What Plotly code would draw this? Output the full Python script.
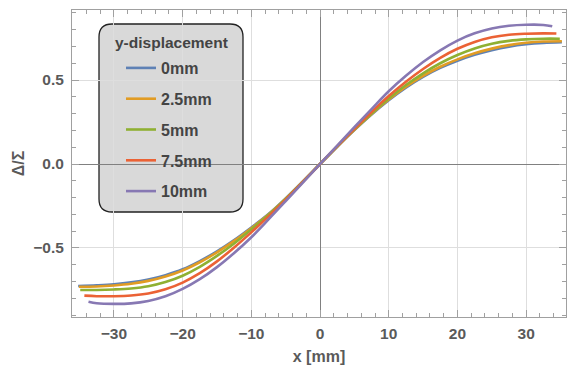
import plotly.graph_objects as go

# ---- data ----
series_names = ["0mm", "2.5mm", "5mm", "7.5mm", "10mm"]
colors = ["#5E81B5", "#E19C24", "#8FB032", "#EB6235", "#8778B3"]
legend_title = "y-displacement"

x_inner = [-32.5, -30, -27.5, -25, -22.5, -20, -17.5, -15, -12.5, -10, -7.5, -5, -2.5,
           0, 2.5, 5, 7.5, 10, 12.5, 15, 17.5, 20, 22.5, 25, 27.5, 30, 32.5]

x_0mm = [-35.2] + x_inner + [35.2]
y_0mm = [-0.726, -0.722, -0.716, -0.705, -0.688, -0.662, -0.627, -0.578, -0.520, -0.453,
         -0.378, -0.298, -0.205, -0.104, 0.0, 0.103, 0.202, 0.295, 0.380, 0.455, 0.519,
         0.572, 0.615, 0.650, 0.678, 0.699, 0.713, 0.721, 0.725]

x_2p5mm = [-35.1] + x_inner + [35.2]
y_2p5mm = [-0.731, -0.729, -0.723, -0.713, -0.696, -0.670, -0.634, -0.585, -0.526, -0.458,
           -0.382, -0.301, -0.207, -0.105, 0.0, 0.104, 0.204, 0.298, 0.384, 0.460, 0.525,
           0.579, 0.623, 0.659, 0.687, 0.708, 0.722, 0.729, 0.731]

x_5mm = [-34.9] + x_inner + [34.9]
y_5mm = [-0.750, -0.750, -0.747, -0.741, -0.728, -0.703, -0.665, -0.612, -0.547, -0.473,
         -0.390, -0.304, -0.208, -0.105, 0.0, 0.104, 0.206, 0.301, 0.390, 0.470, 0.540,
         0.600, 0.649, 0.688, 0.716, 0.733, 0.742, 0.746, 0.746]

x_7p5mm = [-34.3] + x_inner + [34.4]
y_7p5mm = [-0.784, -0.787, -0.787, -0.783, -0.771, -0.746, -0.706, -0.650, -0.580, -0.497,
           -0.407, -0.312, -0.212, -0.107, 0.0, 0.106, 0.210, 0.310, 0.405, 0.490, 0.566,
           0.632, 0.686, 0.727, 0.755, 0.770, 0.776, 0.778, 0.777]

x_10mm = [-33.7] + x_inner + [33.8]
y_10mm = [-0.820, -0.829, -0.833, -0.830, -0.816, -0.788, -0.744, -0.686, -0.614, -0.530,
          -0.436, -0.330, -0.221, -0.111, 0.0, 0.110, 0.219, 0.327, 0.433, 0.525, 0.607,
          0.677, 0.735, 0.778, 0.807, 0.823, 0.829, 0.828, 0.820]

xs = [x_0mm, x_2p5mm, x_5mm, x_7p5mm, x_10mm]
ys = [y_0mm, y_2p5mm, y_5mm, y_7p5mm, y_10mm]

x_ticks = [-30, -20, -10, 0, 10, 20, 30]
y_ticks = [-0.5, 0.0, 0.5]
y_ticklabels = ["\u22120.5", "0.0", "0.5"]

FONT = "Liberation Sans"
TXT = "#5a5a5a"
LEG = "#444444"

fig = go.Figure()
for i, name in enumerate(series_names):
    fig.add_trace(go.Scatter(
        x=xs[i], y=ys[i], mode="lines", name=name, legendgroup=name,
        line=dict(color=colors[i], width=2.6, shape="spline", smoothing=1.0),
    ))

W, H = 568, 370
ml, mr, mt, mb = 72, 2, 10, 53
pw, ph = W - ml - mr, H - mt - mb

def px2x(p):
    return (p - ml) / pw

def px2y(p):
    return (H - mb - p) / ph

# rounded legend box
bx0, bx1, by0, by1 = px2x(99), px2x(243), px2y(24), px2y(212)
rx, ry = 13 / pw, 13 / ph
path = (f"M{bx0+rx},{by0} L{bx1-rx},{by0} Q{bx1},{by0} {bx1},{by0-ry} "
        f"L{bx1},{by1+ry} Q{bx1},{by1} {bx1-rx},{by1} L{bx0+rx},{by1} "
        f"Q{bx0},{by1} {bx0},{by1+ry} L{bx0},{by0-ry} Q{bx0},{by0} {bx0+rx},{by0} Z")
fig.add_shape(type="path", path=path, xref="paper", yref="paper",
              fillcolor="#d9d9d9", line=dict(color="#222222", width=1.3), layer="between")

# legend title (centred in the rounded box)
fig.add_annotation(text=legend_title, xref="paper", yref="paper",
                   x=(bx0 + bx1) / 2, y=px2y(42), xanchor="center", yanchor="middle",
                   showarrow=False, font=dict(family=FONT, size=15.5, color=LEG, weight="bold"))

axis_common = dict(
    showline=True, linecolor="#a0a0a0", linewidth=1, mirror="ticks",
    ticks="inside", ticklen=7, tickcolor="#a0a0a0", tickwidth=1,
    showgrid=True, gridcolor="#dedede", gridwidth=1,
    zeroline=True, zerolinecolor="#808080", zerolinewidth=1,
    tickfont=dict(family=FONT, size=15.5, color=TXT, weight="bold"),
    automargin=False,
)

fig.update_xaxes(
    **axis_common,
    range=[-36.1, 35.8], tickmode="array", tickvals=x_ticks, ticklabelstandoff=2,
    minor=dict(dtick=2, ticks="inside", ticklen=4, tickcolor="#a0a0a0", showgrid=False),
    title=dict(text="x [mm]", font=dict(family=FONT, size=16, color=TXT, weight="bold"), standoff=10),
)
fig.update_yaxes(
    **axis_common,
    range=[-0.911, 0.917], tickmode="array", tickvals=y_ticks, ticktext=y_ticklabels,
    ticklabelstandoff=4,
    minor=dict(dtick=0.1, ticks="inside", ticklen=4, tickcolor="#a0a0a0", showgrid=False),
    title=dict(text="\u0394/\u03a3", font=dict(family=FONT, size=16, color=TXT, weight="bold"), standoff=4),
)

fig.update_layout(
    width=W, height=H,
    margin=dict(l=ml, r=mr, t=mt, b=mb, pad=0),
    plot_bgcolor="white", paper_bgcolor="white",
    showlegend=True,
    legend=dict(
        x=px2x(121), y=px2y(51), xanchor="left", yanchor="top",
        bgcolor="rgba(0,0,0,0)", borderwidth=0,
        font=dict(family=FONT, size=16, color=LEG, weight="bold"),
        tracegroupgap=7, itemwidth=30,
    ),
)

fig.write_html("out.html", config={"displayModeBar": False},
               post_script="document.body.style.margin='0px';")
